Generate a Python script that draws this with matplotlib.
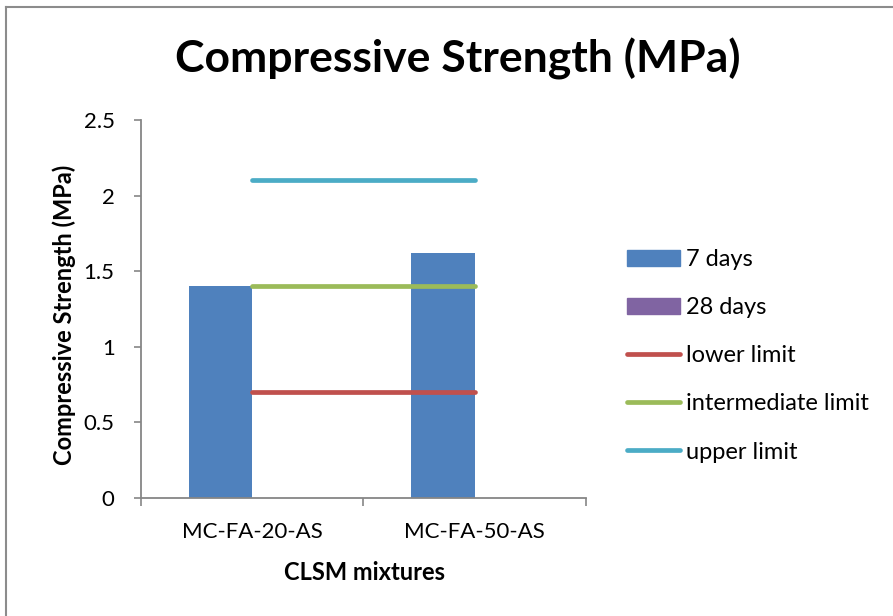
import matplotlib
matplotlib.use("Agg")
import matplotlib.pyplot as plt
from matplotlib.patches import Patch
from matplotlib.lines import Line2D

# Data
mixtures = ["MC-FA-20-AS", "MC-FA-50-AS"]
strength_7d = [1.40, 1.62]
strength_28d = [0.0, 0.0]
lower_limit = [0.7, 0.7]
intermediate_limit = [1.4, 1.4]
upper_limit = [2.1, 2.1]
y_ticks = [0, 0.5, 1, 1.5, 2, 2.5]

plt.rcParams["font.family"] = ["Lato", "DejaVu Sans"]

C_BLUE = "#4F81BD"
C_PURPLE = "#8064A2"
C_RED = "#C0504D"
C_GREEN = "#9BBB59"
C_TEAL = "#4BACC6"
C_AXIS = "#868686"

W, H = 893, 616
fig = plt.figure(figsize=(W / 100, H / 100), dpi=100)
ax = fig.add_axes([141 / W, 1 - 498 / H, (586 - 141) / W, (498 - 120) / H])

x = list(range(len(mixtures)))
bw = 1 / 3.5
ax.bar([i - bw / 2 for i in x], strength_7d, width=bw, color=C_BLUE, label="7 days")
ax.bar([i + bw / 2 for i in x], strength_28d, width=bw, color=C_PURPLE, label="28 days")

lw = 3.4
ax.plot(x, lower_limit, color=C_RED, lw=lw, solid_capstyle="round", label="lower limit")
ax.plot(x, intermediate_limit, color=C_GREEN, lw=lw, solid_capstyle="round", label="intermediate limit")
ax.plot(x, upper_limit, color=C_TEAL, lw=lw, solid_capstyle="round", label="upper limit")

ax.set_xlim(-0.5, len(mixtures) - 0.5)
ax.set_ylim(0, 2.5)
ax.set_yticks(y_ticks)
ax.set_yticklabels([f"{v:g}" for v in y_ticks], fontsize=16)

ax.set_xticks([i - 0.5 for i in range(len(mixtures) + 1)])
ax.set_xticklabels([])
ax.set_xticks(x, minor=True)
ax.set_xticklabels(mixtures, minor=True, fontsize=16)
ax.tick_params(axis="x", which="major", direction="out", length=6, width=1.2, color=C_AXIS)
ax.tick_params(axis="x", which="minor", length=0, pad=17)
ax.tick_params(axis="y", direction="out", length=5, width=1.2, color=C_AXIS, pad=14)

for s in ["top", "right"]:
    ax.spines[s].set_visible(False)
for s in ["left", "bottom"]:
    ax.spines[s].set_color(C_AXIS)
    ax.spines[s].set_linewidth(1.3)

fig.text(364 / W, 1 - 573 / H, "CLSM mixtures", fontsize=17, fontweight="bold",
         ha="center", va="center")
fig.text(64 / W, 1 - 315 / H, "Compressive Strength (MPa)", fontsize=17, fontweight="bold",
         ha="center", va="center", rotation=90)
fig.text(458 / W, 1 - 73 / H, "Compressive Strength (MPa)", fontsize=32, fontweight="bold",
         ha="center", va="baseline")

handles = [
    Patch(color=C_BLUE),
    Patch(color=C_PURPLE),
    Line2D([], [], color=C_RED, lw=lw, solid_capstyle="round"),
    Line2D([], [], color=C_GREEN, lw=lw, solid_capstyle="round"),
    Line2D([], [], color=C_TEAL, lw=lw, solid_capstyle="round"),
]
labels = ["7 days", "28 days", "lower limit", "intermediate limit", "upper limit"]
fig.legend(handles, labels, loc="upper left", bbox_to_anchor=(627 / W, 1 - 249 / H),
           frameon=False, fontsize=17, handlelength=2.25, handleheight=0.68,
           handletextpad=0.25, labelspacing=1.15, borderaxespad=0, borderpad=0)

# Chart-area frame (top and left edges)
fig.add_artist(Line2D([6 / W, 6 / W], [0, 1 - 7 / H], transform=fig.transFigure,
                      color="#8C8C8C", lw=1.5))
fig.add_artist(Line2D([6 / W, 1], [1 - 7 / H, 1 - 7 / H], transform=fig.transFigure,
                      color="#8C8C8C", lw=1.5))

fig.savefig("out.png", dpi=100)
